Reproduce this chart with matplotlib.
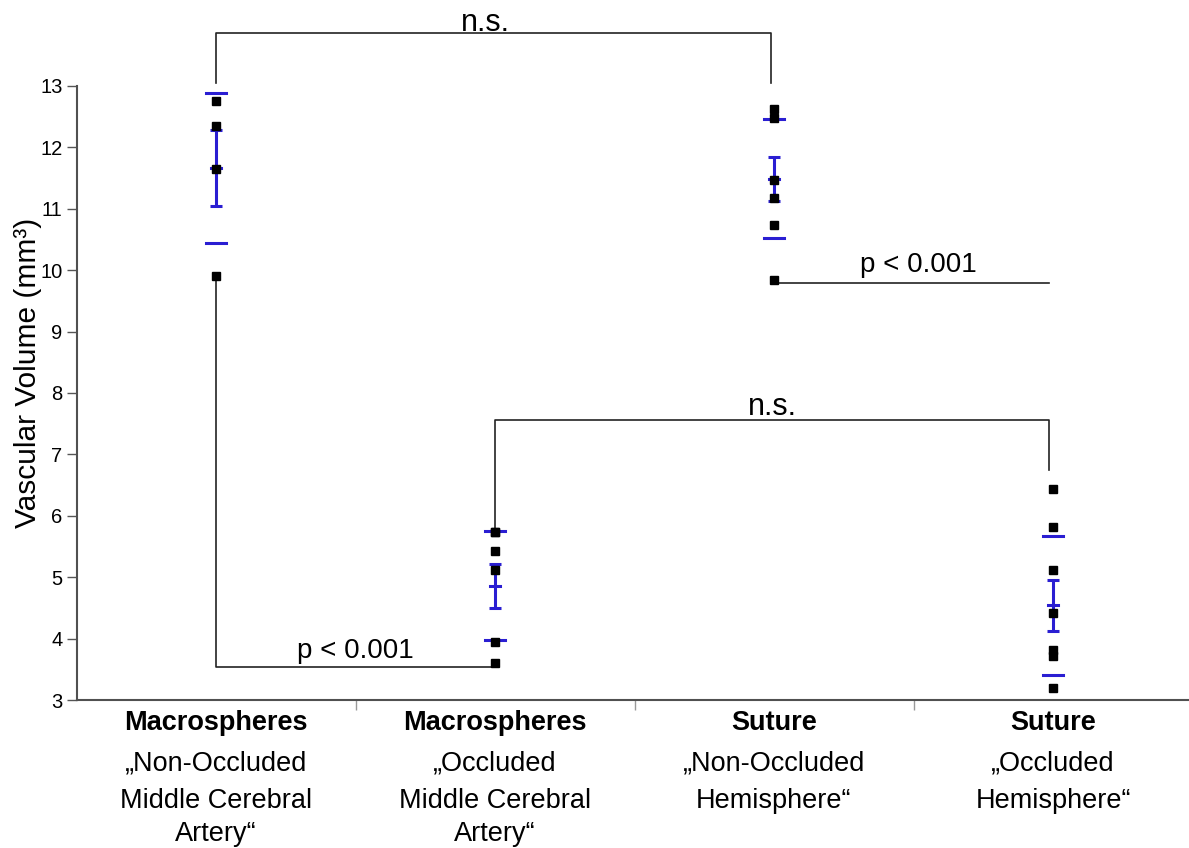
import matplotlib
matplotlib.use("Agg")
import matplotlib.pyplot as plt
import matplotlib.transforms as mtransforms
import numpy as np

plt.rcParams['font.family'] = ['Liberation Sans', 'DejaVu Sans']

# ---- data ----
group_titles = ["Macrospheres", "Macrospheres", "Suture", "Suture"]
group_sublabels = [
    ["\u201eNon-Occluded", "Middle Cerebral", "Artery\u201c"],
    ["\u201eOccluded", "Middle Cerebral", "Artery\u201c"],
    ["\u201eNon-Occluded", "Hemisphere\u201c"],
    ["\u201eOccluded", "Hemisphere\u201c"],
]
g1_values = [12.75, 12.35, 11.65, 9.90]
g2_values = [5.74, 5.73, 5.43, 5.12, 3.95, 3.61]
g3_values = [12.62, 12.48, 11.47, 11.17, 10.74, 9.84]
g4_values = [6.43, 5.82, 5.12, 4.42, 3.82, 3.72, 3.19]
group_values = [g1_values, g2_values, g3_values, g4_values]
means = [11.66, 4.86, 11.49, 4.54]
sem = [0.62, 0.36, 0.36, 0.41]
sd = [1.22, 0.89, 0.97, 1.13]

y_ticks = [3, 4, 5, 6, 7, 8, 9, 10, 11, 12, 13]

# significance brackets:
# (x_left, y_left_end, x_right, y_right_end, y_bar, label, label_x, size, text_offset)
brackets = [
    (0.5, 13.05, 2.49, 13.05, 13.86, "n.s.", 1.465, 22, 0.03),
    (0.5, 9.90, 1.5, 3.61, 3.54, "p < 0.001", 0.998, 20, 0.15),
    (1.5, 5.75, 3.485, 6.74, 7.56, "n.s.", 2.493, 22, 0.08),
    (2.5, 9.79, 3.485, 9.79, 9.79, "p < 0.001", 3.016, 20, 0.18),
]

blue = '#2a1ed2'
W, H = 1189, 848
fig = plt.figure(figsize=(W / 100, H / 100), dpi=100)
ax = fig.add_axes([76.5 / W, 1 - 700 / H, 1116 / W, 700 / H])
ax.set_xlim(0, 4)
ax.set_ylim(3, 14.4)

for sp in ['top', 'right']:
    ax.spines[sp].set_visible(False)
ax.spines['left'].set_bounds(3, 13)
for sp in ['left', 'bottom']:
    ax.spines[sp].set_color('#505050')
    ax.spines[sp].set_linewidth(1.5)

ax.set_yticks(y_ticks)
ax.set_yticklabels([str(t) for t in y_ticks], fontsize=14.5)
ax.tick_params(axis='y', direction='out', length=7, width=1, color='#555555', pad=3)
ax.set_xticks([1, 2, 3])
ax.set_xticklabels([])
ax.tick_params(axis='x', direction='out', length=7, width=1, color='#999999')

ax.set_ylabel("Vascular Volume (mm\u00b3)", fontsize=21.5)
ax.yaxis.set_label_coords(-0.031, 0.467)

xpos = np.arange(4) + 0.5
# brackets
for (xl, yl, xr, yr, yb, lab, lx, fs, off) in brackets:
    ax.plot([xl, xl, xr, xr], [yl, yb, yb, yr], color='#222222', lw=1.2,
            clip_on=False, zorder=2)
    ax.text(lx, yb + off, lab, ha='center', va='baseline', fontsize=fs, clip_on=False)

# points and error bars
dash_half = 0.036
for i, vals in enumerate(group_values):
    x = xpos[i]
    ax.plot([x] * len(vals), vals, 's', color='black', ms=6, zorder=4, clip_on=False)
    # SD dashes
    for yv in (means[i] + sd[i], means[i] - sd[i]):
        ax.plot([x - dash_half, x + dash_half], [yv, yv], color=blue, lw=2.2, zorder=3)
    # SEM bar
    ax.errorbar([x], [means[i]], yerr=[sem[i]], fmt='none', ecolor=blue,
                elinewidth=2.2, capsize=4, capthick=2.2, zorder=3)
    ax.plot([x - 0.018, x + 0.018], [means[i], means[i]], color=blue, lw=2.2, zorder=3)

# category labels
trans = mtransforms.blended_transform_factory(ax.transData, fig.transFigure)
line_y_px = [723, 764, 801, 834]
for i in range(4):
    ax.text(xpos[i], 1 - line_y_px[0] / H, group_titles[i], transform=trans,
            ha='center', va='center', fontsize=19.5, fontweight='bold')
    for j, s in enumerate(group_sublabels[i]):
        ax.text(xpos[i], 1 - line_y_px[j + 1] / H, s, transform=trans,
                ha='center', va='center', fontsize=19.5)

fig.savefig("out.png", dpi=100)
